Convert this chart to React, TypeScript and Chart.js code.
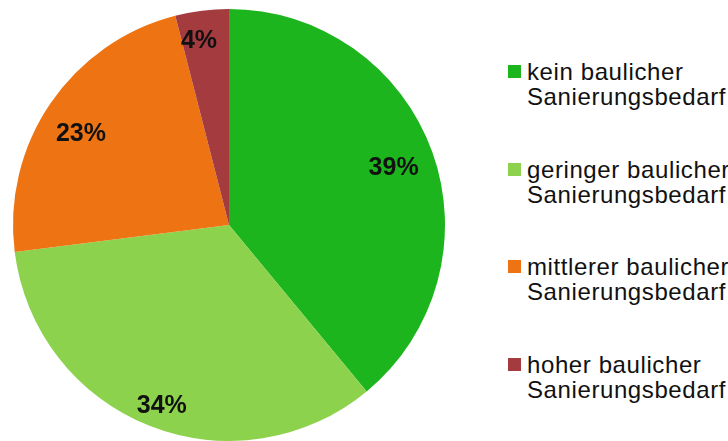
import React, { useEffect, useRef } from "react";
import { Chart, registerables } from "chart.js";

Chart.register(...registerables);

const categories: string[][] = [
  ["kein baulicher", "Sanierungsbedarf"],
  ["geringer baulicher", "Sanierungsbedarf"],
  ["mittlerer baulicher", "Sanierungsbedarf"],
  ["hoher baulicher", "Sanierungsbedarf"],
];
const values: number[] = [39, 34, 23, 4];
const valueLabels: string[] = ["39%", "34%", "23%", "4%"];
const colors: string[] = ["#1CB51D", "#8DD24D", "#EE7312", "#A33B3F"];

// label placement (style only): radius fraction and angular nudge in degrees
const labelRadius = [0.81, 0.885, 0.81, 0.87];
const labelNudgeDeg = [0, -1, -2, -2];

const labelPlugin = {
  id: "sliceLabels",
  afterDatasetsDraw(chart: any) {
    const ctx = chart.ctx;
    const meta = chart.getDatasetMeta(0);
    ctx.save();
    ctx.font = "bold 25px 'Liberation Sans', Arial, sans-serif";
    ctx.fillStyle = "#111";
    ctx.textAlign = "center";
    ctx.textBaseline = "middle";
    meta.data.forEach((arc: any, i: number) => {
      const { x, y, startAngle, endAngle, outerRadius } = arc.getProps(
        ["x", "y", "startAngle", "endAngle", "outerRadius"],
        true
      );
      const mid = (startAngle + endAngle) / 2 + (labelNudgeDeg[i] * Math.PI) / 180;
      const r = outerRadius * labelRadius[i];
      ctx.fillText(valueLabels[i], x + Math.cos(mid) * r, y + Math.sin(mid) * r + 2);
    });
    ctx.restore();
  },
};

export default function App() {
  const ref = useRef<HTMLCanvasElement>(null);
  useEffect(() => {
    if (!ref.current) return;
    const chart = new Chart(ref.current, {
      type: "pie",
      data: {
        labels: categories.map((c) => c.join(" ")),
        datasets: [
          {
            data: values,
            backgroundColor: colors,
            borderWidth: 0,
            hoverOffset: 0,
          },
        ],
      },
      options: {
        responsive: false,
        animation: false,
        layout: { padding: { left: 13, right: 13, top: 9, bottom: 0 } },
        plugins: {
          legend: { display: false },
          tooltip: { enabled: false },
        },
      },
      plugins: [labelPlugin],
    });
    return () => chart.destroy();
  }, []);

  return (
    <div
      style={{
        position: "fixed",
        left: 0,
        top: 0,
        width: 728,
        height: 441,
        background: "#fff",
        overflow: "hidden",
      }}
    >
      <canvas
        ref={ref}
        width={458}
        height={441}
        style={{ position: "absolute", left: 0, top: 0, width: 458, height: 441 }}
      />
      {categories.map((lines, i) => (
        <div
          key={i}
          style={{
            position: "absolute",
            left: 508,
            top: 59 + i * 97.5,
            fontFamily: "'Liberation Sans', Arial, sans-serif",
            fontSize: 24,
            lineHeight: "25px",
            letterSpacing: "0.6px",
            color: "#111",
            whiteSpace: "nowrap",
          }}
        >
          <span
            style={{
              position: "absolute",
              left: 0,
              top: 6,
              width: 13,
              height: 13,
              background: colors[i],
            }}
          />
          {lines.map((t, j) => (
            <div key={j} style={{ marginLeft: 19 }}>
              {t}
            </div>
          ))}
        </div>
      ))}
    </div>
  );
}
